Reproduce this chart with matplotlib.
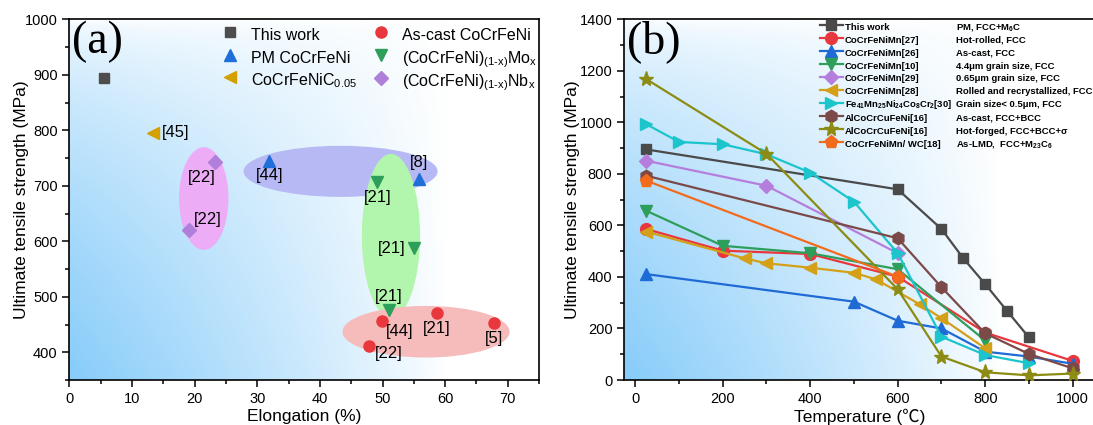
import matplotlib
matplotlib.use('Agg')
import matplotlib.pyplot as plt
from matplotlib.patches import Ellipse
import numpy as np

plt.rcParams['font.family'] = ['Liberation Sans', 'DejaVu Sans']
plt.rcParams['mathtext.fontset'] = 'custom'
plt.rcParams['mathtext.rm'] = 'Liberation Sans'
plt.rcParams['mathtext.default'] = 'regular'

# ---- panel (a): UTS vs elongation ----
elong_this = [5.5]
uts_this = [895]
elong_pm = [31.9, 55.9]
uts_pm = [744, 713]
refs_pm = ['[44]', '[8]']
elong_c005 = [13.4]
uts_c005 = [796]
refs_c005 = ['[45]']
elong_cast = [49.9, 58.7, 67.8, 47.9]
uts_cast = [456, 471, 453, 412]
refs_cast = ['[44]', '[21]', '[5]', '[22]']
elong_mo = [49.2, 55.0, 51.0]
uts_mo = [707, 587, 477]
refs_mo = ['[21]', '[21]', '[21]']
elong_nb = [23.3, 19.1]
uts_nb = [743, 621]
refs_nb = ['[22]', '[22]']

# ---- panel (b): UTS vs temperature ----
temp_this = [25, 600, 700, 750, 800, 850, 900]
uts_this_t = [895, 740, 586, 472, 372, 268, 165]
temp_27 = [25, 200, 400, 600, 800, 1000]
uts_27 = [586, 502, 489, 401, 184, 74]
temp_26 = [25, 500, 600, 700, 800, 900, 1000]
uts_26 = [411, 304, 230, 200, 110, 91, 63]
temp_10 = [25, 200, 400, 600, 800]
uts_10 = [657, 521, 492, 430, 153]
temp_29 = [25, 300, 600]
uts_29 = [851, 754, 492]
temp_28 = [25, 250, 300, 400, 500, 550, 650, 700, 800]
uts_28 = [576, 472, 453, 436, 416, 391, 294, 240, 123]
temp_30 = [25, 100, 200, 300, 400, 500, 600, 700, 800, 900]
uts_30 = [993, 924, 915, 876, 805, 692, 492, 168, 97, 65]
temp_16a = [25, 600, 700, 800, 900, 1000]
uts_16a = [793, 550, 360, 181, 101, 45]
temp_16b = [25, 300, 600, 700, 800, 900, 1000]
uts_16b = [1168, 878, 352, 91, 30, 18, 25]
temp_18 = [25, 600]
uts_18 = [774, 401]

names_b = ['This work', 'CoCrFeNiMn[27]', 'CoCrFeNiMn[26]', 'CoCrFeNiMn[10]',
           'CoCrFeNiMn[29]', 'CoCrFeNiMn[28]',
           'Fe$_{41}$Mn$_{25}$Ni$_{24}$Co$_{8}$Cr$_{2}$[30]',
           'AlCoCrCuFeNi[16]', 'AlCoCrCuFeNi[16]', 'CoCrFeNiMn/ WC[18]']
desc_b = ['PM, FCC+M$_{6}$C', 'Hot-rolled, FCC', 'As-cast, FCC',
          '4.4\u03bcm grain size, FCC', '0.65\u03bcm grain size, FCC',
          'Rolled and recrystallized, FCC', 'Grain size< 0.5\u03bcm, FCC',
          'As-cast, FCC+BCC', 'Hot-forged, FCC+BCC+\u03c3',
          'As-LMD,  FCC+M$_{23}$C$_{6}$']


def add_gradient(ax):
    gx, gy = np.meshgrid(np.linspace(0, 1, 400), np.linspace(0, 1, 300))
    w = np.clip(1 - gx / 0.8, 0, 1) ** 0.85 * np.clip(1 - gy, 0, 1) ** 0.55
    base = np.array([0.53, 0.80, 0.98])
    img = 1 - w[..., None] * (1 - base)
    ax.imshow(img, extent=[0, 1, 0, 1], transform=ax.transAxes, origin='lower',
              aspect='auto', zorder=0, interpolation='bilinear')


def style_axes(ax):
    for s in ax.spines.values():
        s.set_linewidth(1.2)
    ax.tick_params(which='both', direction='out', top=False, right=False,
                   labelsize=10.5, width=1.1)
    ax.tick_params(which='major', length=5)
    ax.tick_params(which='minor', length=3)


fig = plt.figure(figsize=(10.93, 4.25), dpi=100)
ax1 = fig.add_axes([69.5 / 1093, 45 / 425, 469.5 / 1093, 360.7 / 425])
ax2 = fig.add_axes([624.3 / 1093, 45 / 425, 470.3 / 1093, 360.7 / 425])

# ---------------- (a) ----------------
add_gradient(ax1)
ellipses = [  # (cx, cy, w, h, colour)
    (21.45, 677, 7.9, 185, '#ECADF6'),
    (43.3, 726, 31.0, 92, '#B6B9F4'),
    (51.35, 610, 9.3, 295, '#B2F5AC'),
    (56.95, 437, 26.7, 93, '#F6BBBB'),
]
for cx, cy, w, h, c in ellipses:
    ax1.add_patch(Ellipse((cx, cy), w, h, facecolor=c, edgecolor='none', zorder=1))

sub = '$_{(1\u2010x)}$'
ax1.plot(elong_this, uts_this, 's', color='#4D4D4D', ms=7.5, ls='none', label='This work', zorder=3)
ax1.plot(elong_pm, uts_pm, '^', color='#1F6FD9', ms=8.5, ls='none', label='PM CoCrFeNi', zorder=3)
ax1.plot(elong_c005, uts_c005, '<', color='#D4A000', ms=8.5, ls='none', label='CoCrFeNiC$_{0.05}$', zorder=3)
ax1.plot(elong_cast, uts_cast, 'o', color='#E8383D', ms=8, ls='none', label='As-cast CoCrFeNi', zorder=3)
ax1.plot(elong_mo, uts_mo, 'v', color='#2E9E5B', ms=8.5, ls='none', label='(CoCrFeNi)' + sub + 'Mo$_{x}$', zorder=3)
ax1.plot(elong_nb, uts_nb, 'D', color='#B07FDA', ms=6.8, ls='none', label='(CoCrFeNi)' + sub + 'Nb$_{x}$', zorder=3)

# label offsets in points (dx, dy)
label_sets = [
    (elong_pm, uts_pm, refs_pm, [(0, -10), (0, 11.5)]),
    (elong_c005, uts_c005, refs_c005, [(16, 0)]),
    (elong_cast, uts_cast, refs_cast, [(13, -7.5), (0, -11), (0, -11), (14, -6)]),
    (elong_mo, uts_mo, refs_mo, [(0, -11.5), (-16, 0), (0, 9.5)]),
    (elong_nb, uts_nb, refs_nb, [(-10, -11), (13.5, 7.5)]),
]
for xs, ys, refs, offs in label_sets:
    for x, y, r, (dx, dy) in zip(xs, ys, refs, offs):
        ax1.annotate(r, (x, y), xytext=(dx, dy), textcoords='offset points',
                     ha='center', va='center', fontsize=12, zorder=4)

ax1.set_xlim(0, 75)
ax1.set_ylim(350, 1000)
ax1.set_xticks(np.arange(0, 71, 10))
ax1.set_xticks(np.arange(5, 76, 10), minor=True)
ax1.set_yticks(np.arange(400, 1001, 100))
ax1.set_yticks(np.arange(350, 1000, 100), minor=True)
ax1.set_xlabel('Elongation (%)', fontsize=12.5, labelpad=2)
ax1.set_ylabel('Ultimate tensile strength (MPa)', fontsize=12.5, labelpad=-3)
style_axes(ax1)
ax1.text(0.006, 0.997, '(a)', transform=ax1.transAxes, ha='left', va='top',
         fontsize=33, family='Liberation Serif', zorder=5)
ax1.legend(ncol=2, loc='upper left', bbox_to_anchor=(0.325, 0.9875), frameon=False,
           fontsize=11.5, handlelength=1.0, handletextpad=0.8, labelspacing=0.0,
           handleheight=1.8, columnspacing=1.0, borderaxespad=0, borderpad=0)

# ---------------- (b) ----------------
add_gradient(ax2)
series_b = [
    (temp_this, uts_this_t, 's', '#4A4A4A', 7.5),
    (temp_27, uts_27, 'o', '#E8383D', 8.5),
    (temp_26, uts_26, '^', '#1F6BD6', 8.5),
    (temp_10, uts_10, 'v', '#2E9E5B', 8.5),
    (temp_29, uts_29, 'D', '#B57EDC', 6.8),
    (temp_28, uts_28, '<', '#D4A017', 8.5),
    (temp_30, uts_30, '>', '#1CC4CC', 8.5),
    (temp_16a, uts_16a, 'h', '#7B4A48', 9),
    (temp_16b, uts_16b, '*', '#8C8C14', 11),
    (temp_18, uts_18, 'p', '#F26B1D', 9.5),
]
for (xs, ys, m, c, ms), name in zip(series_b, names_b):
    ax2.plot(xs, ys, marker=m, color=c, ms=ms, lw=1.6, label=name, zorder=3)

ax2.set_xlim(-25, 1050)
ax2.set_ylim(0, 1400)
ax2.set_xticks(np.arange(0, 1001, 200))
ax2.set_xticks(np.arange(100, 1050, 200), minor=True)
ax2.set_yticks(np.arange(0, 1401, 200))
ax2.set_yticks(np.arange(100, 1400, 200), minor=True)
ax2.set_xlabel('Temperature (\u2103)', fontsize=12.5, labelpad=2,
               family=['Liberation Sans', 'Noto Sans CJK SC', 'DejaVu Sans'])
ax2.set_ylabel('Ultimate tensile strength (MPa)', fontsize=12.5, labelpad=0)
style_axes(ax2)
ax2.text(0.006, 0.997, '(b)', transform=ax2.transAxes, ha='left', va='top',
         fontsize=33, family='Liberation Serif', zorder=5)
leg = ax2.legend(loc='upper left', bbox_to_anchor=(0.416, 0.9975), frameon=False,
                 prop=dict(family='Liberation Sans', weight='bold', size=6.8),
                 handlelength=2.4, handletextpad=0.25, labelspacing=0.0,
                 handleheight=1.73, borderaxespad=0, borderpad=0)

# description column aligned with the legend rows
fig.canvas.draw()
rend = fig.canvas.get_renderer()
line_y = []
text_y = []
for line, t in zip(leg.get_lines(), leg.get_texts()):
    lb = line.get_window_extent(rend)
    tb = t.get_window_extent(rend)
    line_y.append(0.5 * (lb.y0 + lb.y1))
    text_y.append(0.5 * (tb.y0 + tb.y1))
plain = [i for i, n in enumerate(names_b) if '$' not in n]
shift = np.median([text_y[i] - line_y[i] for i in plain])
for ly, d in zip(line_y, desc_b):
    y_fig = fig.transFigure.inverted().transform((0, ly + shift))[1]
    fig.text(956 / 1093, y_fig, d, ha='left', va='center', fontsize=6.8,
             weight='bold', family='Liberation Sans', zorder=6)

fig.savefig('out.png', dpi=100)
